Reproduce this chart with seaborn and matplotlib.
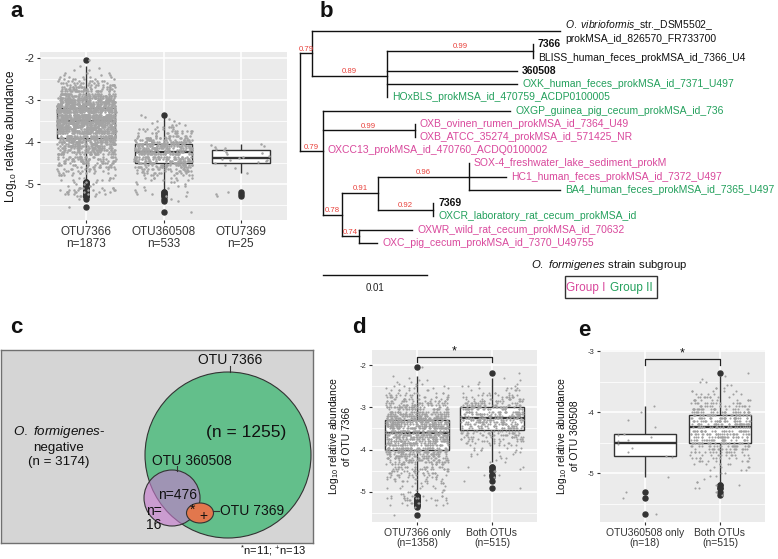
import numpy as np
import pandas as pd
import matplotlib
matplotlib.use("Agg")
import matplotlib.pyplot as plt
import seaborn as sns
from matplotlib.patches import Circle, Ellipse, Rectangle
from matplotlib.colors import to_rgba

plt.rcParams['font.family'] = ['Liberation Sans', 'DejaVu Sans']
plt.rcParams['mathtext.fontset'] = 'custom'
plt.rcParams['mathtext.rm'] = 'Liberation Sans'
plt.rcParams['mathtext.it'] = 'Liberation Sans:italic'
plt.rcParams['mathtext.bf'] = 'Liberation Sans:bold'
plt.rcParams['axes.unicode_minus'] = False
np.random.seed(3)

# ---------------- data (log10 relative abundance, 0.05-wide bins) -------------
STEP = 0.05
# OTU7366 in samples with OTU7366 only (counts per bin from the top value downwards)
d1_top = -2.05
d1_counts = [1, 0, 0, 0, 1, 1, 2, 2, 3, 4,
             5, 6, 8, 10, 12, 14, 16, 19, 22, 26,
             29, 33, 36, 40, 43, 47, 50, 52, 54, 57,
             58, 40, 45, 44, 43, 42, 41, 39, 38, 36,
             33, 31, 29, 26, 24, 22, 20, 17, 16, 14,
             13, 11, 9, 8, 7, 6, 5, 4, 3, 3,
             2, 7, 9, 8, 6, 4, 1, 0, 0, 0,
             1]
# OTU7366 in samples with both OTUs
d2_top = -2.20
d2_counts = [1, 0, 1, 1, 1, 2, 3, 4, 5, 6,
             8, 10, 13, 15, 18, 20, 23, 25, 27, 29,
             30, 28, 25, 25, 24, 22, 20, 18, 16, 15,
             13, 12, 10, 8, 6, 4, 4, 3, 3, 2,
             2, 1, 2, 0, 2, 1, 2, 0, 2, 1,
             0, 1, 0, 0, 1]
# OTU360508 in samples with both OTUs
e2_top = -3.35
e2_counts = [1, 1, 1, 2, 2, 3, 5, 6, 9, 11,
             14, 17, 21, 24, 27, 30, 31, 33, 29, 31,
             30, 28, 26, 23, 21, 18, 15, 12, 10, 8,
             6, 4, 3, 2, 2, 1, 2, 2, 2, 1,
             1]
# OTU360508 in samples with OTU360508 only
e1_values = [-5.67, -5.40, -5.30, -5.07, -4.73, -4.71, -4.66, -4.58, -4.52,
             -4.48, -4.45, -4.41, -4.38, -4.36, -4.25, -4.12, -4.00, -3.89]
# OTU7369
a3_values = [-5.28, -5.25, -5.20, -4.75, -4.62, -4.55, -4.50, -4.48, -4.46,
             -4.44, -4.42, -4.40, -4.38, -4.36, -4.33, -4.30, -4.26, -4.23,
             -4.20, -4.18, -4.15, -4.12, -4.10, -4.07, -4.05]

a_names = ["OTU7366", "OTU360508", "OTU7369"]
d_names = ["OTU7366 only", "Both OTUs"]
e_names = ["OTU360508 only", "Both OTUs"]

# Venn counts (panel c)
n_negative = 3174
n_7366_only = 1255
n_both = 476
n_360508_only = 16
n_star = 11
n_plus = 13

# tree (panel b): leaves in plotting order
leaf_labels = [
    "$\\mathit{O.\\ vibrioformis}$_str._DSM5502_\nprokMSA_id_826570_FR733700",
    "7366", "BLISS_human_feces_prokMSA_id_7366_U4", "360508",
    "OXK_human_feces_prokMSA_id_7371_U497", "HOxBLS_prokMSA_id_470759_ACDP0100005",
    "OXGP_guinea_pig_cecum_prokMSA_id_736", "OXB_ovinen_rumen_prokMSA_id_7364_U49",
    "OXB_ATCC_35274_prokMSA_id_571425_NR", "OXCC13_prokMSA_id_470760_ACDQ0100002",
    "SOX-4_freshwater_lake_sediment_prokM", "HC1_human_feces_prokMSA_id_7372_U497",
    "BA4_human_feces_prokMSA_id_7365_U497", "7369",
    "OXCR_laboratory_rat_cecum_prokMSA_id", "OXWR_wild_rat_cecum_prokMSA_id_70632",
    "OXC_pig_cecum_prokMSA_id_7370_U49755"]
leaf_group = [None, None, None, None, "II", "II", "II", "I", "I", "I", "I", "I",
              "II", None, "II", "I", "I"]
leaf_bold = [False, True, False, True] + [False] * 9 + [True] + [False] * 3
# ('L', leaf index, branch length) / ('N', branch length, support, children)
tree = ('N', 0.0, None, [
    ('N', 0.00115, "0.79", [
        ('L', 0, 0.0238),
        ('N', 0.0072, "0.89", [
            ('N', 0.0140, "0.99", [('L', 1, 0.0), ('L', 2, 0.0)]),
            ('L', 3, 0.0125),
            ('L', 4, 0.0125),
            ('L', 5, 0.0)])]),
    ('N', 0.0022, "0.79", [
        ('L', 6, 0.0180),
        ('N', 0.0088, "0.99", [('L', 7, 0.0), ('L', 8, 0.0)]),
        ('L', 9, 0.0),
        ('N', 0.0018, "0.78", [
            ('N', 0.0035, "0.91", [
                ('N', 0.0087, "0.96", [('L', 10, 0.0), ('L', 11, 0.0036), ('L', 12, 0.0088)]),
                ('N', 0.0053, "0.92", [('L', 13, 0.0), ('L', 14, 0.0)])]),
            ('N', 0.0017, "0.74", [('L', 15, 0.0051), ('L', 16, 0.0017)])])])])
scale_bar_len = 0.01

# ---------------- helpers ----------------
W, H = 778, 559
PINK, GREEN = "#D9489C", "#23A05C"
GRPCOL = {"I": PINK, "II": GREEN, None: "#111111"}


def rect(x0, y0, x1, y1):
    return [x0 / W, 1 - y1 / H, (x1 - x0) / W, (y1 - y0) / H]


def expand(top, counts):
    vals = np.round(top - STEP * np.arange(len(counts)), 2)
    return np.repeat(vals, counts)


def long_df(names, arrays):
    return pd.DataFrame({"group": np.concatenate([[n] * len(a) for n, a in zip(names, arrays)]),
                         "value": np.concatenate(arrays)})


def gg_style(ax, ylim, yticks, minor, tick_fs):
    ax.set_facecolor("#EBEBEB")
    for s in ax.spines.values():
        s.set_visible(False)
    ax.set_ylim(*ylim)
    ax.set_yticks(yticks)
    ax.set_yticklabels([str(int(t)) for t in yticks])
    ax.set_yticks(minor, minor=True)
    ax.grid(True, which="major", color="white", lw=1.1)
    ax.grid(True, which="minor", axis="y", color="white", lw=0.55)
    ax.tick_params(which="minor", length=0)
    ax.tick_params(which="major", length=2.5, width=0.8, color="#333333", labelcolor="#333333", pad=1.5)
    ax.tick_params(axis="y", labelsize=tick_fs)
    ax.set_axisbelow(True)


box_kw = dict(color="white", linecolor="#333333", linewidth=1.0, saturation=1, showcaps=False,
              flierprops=dict(marker="o", markersize=3.6, markerfacecolor="#333333",
                              markeredgecolor="#333333"),
              medianprops=dict(linewidth=1.7))

d1 = expand(d1_top, d1_counts)
d2 = expand(d2_top, d2_counts)
e2 = expand(e2_top, e2_counts)
e1 = np.array(e1_values)
a1 = np.concatenate([d1, d2])
a2 = np.concatenate([e1, e2])
a3 = np.array(a3_values)

fig = plt.figure(figsize=(7.78, 5.59), dpi=100)

# ---------------- panel a ----------------
axa = fig.add_axes(rect(40, 52, 287, 220))
dfa = long_df(a_names, [a1, a2, a3])
sns.boxplot(data=dfa, x="group", y="value", order=a_names, width=0.75, ax=axa, **box_kw)
sns.stripplot(data=dfa, x="group", y="value", order=a_names, jitter=0.38, size=1.8,
              color="#A4A4A4", linewidth=0, ax=axa, zorder=3)
gg_style(axa, (-5.86, -1.86), [-5, -4, -3, -2], [-5.5, -4.5, -3.5, -2.5], 8)
axa.set_xlim(-0.6, 2.6)
axa.set_xticks(range(3))
axa.set_xticklabels([f"{n}\nn={len(a)}" for n, a in zip(a_names, [a1, a2, a3])],
                    fontsize=8.5, linespacing=1.05)
axa.set_xlabel("")
axa.set_ylabel("Log$_{10}$ relative abundance", fontsize=8.5, color="#111111")
axa.yaxis.set_label_coords(-0.085, 0.5)

# ---------------- panel d ----------------
axd = fig.add_axes(rect(372, 350, 537, 522))
dfd = long_df(d_names, [d1, d2])
sns.boxplot(data=dfd, x="group", y="value", order=d_names, width=0.85, ax=axd, **box_kw)
sns.stripplot(data=dfd, x="group", y="value", order=d_names, jitter=0.42, size=1.5,
              color="#A0A0A0", linewidth=0, ax=axd, zorder=3)
gg_style(axd, (-5.71, -1.645), [-5, -4, -3, -2], [-5.5, -4.5, -3.5, -2.5], 5.5)
axd.set_xlim(-0.6, 1.6)
axd.set_xticks(range(2))
axd.set_xticklabels([f"{n}\n(n={len(a)})" for n, a in zip(d_names, [d1, d2])],
                    fontsize=7.5, linespacing=1.05)
axd.set_xlabel("")
axd.set_ylabel("Log$_{10}$ relative abundance\nof OTU 7366", fontsize=7.5, color="#111111",
               linespacing=1.1)
axd.yaxis.set_label_coords(-0.12, 0.5)
bd = max(a.max() for a in [d1, d2]) + 0.24
axd.plot([0, 0, 1, 1], [bd - 0.12, bd, bd, bd - 0.12], color="#222222", lw=0.9, zorder=4)
axd.text(0.5, bd - 0.02, "*", ha="center", va="bottom", fontsize=9, color="#111111")

# ---------------- panel e ----------------
axe = fig.add_axes(rect(600, 350, 765, 522))
dfe = long_df(e_names, [e1, e2])
sns.boxplot(data=dfe, x="group", y="value", order=e_names, width=0.82, ax=axe, **box_kw)
sns.stripplot(data=dfe, x="group", y="value", order=e_names, jitter=0.4, size=1.5,
              color="#A0A0A0", linewidth=0, ax=axe, zorder=3)
gg_style(axe, (-5.80, -2.98), [-5, -4, -3], [-5.5, -4.5, -3.5], 5.5)
axe.set_xlim(-0.6, 1.6)
axe.set_xticks(range(2))
axe.set_xticklabels([f"{n}\n(n={len(a)})" for n, a in zip(e_names, [e1, e2])],
                    fontsize=7.5, linespacing=1.05)
axe.set_xlabel("")
axe.set_ylabel("Log$_{10}$ relative abundance\nof OTU 360508", fontsize=7.5, color="#111111",
               linespacing=1.1)
axe.yaxis.set_label_coords(-0.12, 0.5)
be = max(a.max() for a in [e1, e2]) + 0.23
axe.plot([0, 0, 1, 1], [be - 0.1, be, be, be - 0.1], color="#222222", lw=0.9, zorder=4)
axe.text(0.5, be - 0.02, "*", ha="center", va="bottom", fontsize=9, color="#111111")

# ---------------- panel b (tree) ----------------
axt = fig.add_axes(rect(290, 15, 778, 305))
axt.set_xlim(-0.00096, 0.0459)
axt.set_ylim(20.68, -1.208)
axt.axis("off")
LW = 1.0


def draw(node, x0):
    if node[0] == "L":
        _, idx, bl = node
        x = x0 + bl
        if bl > 0:
            axt.plot([x0, x], [idx, idx], color="#111111", lw=LW, solid_capstyle="projecting")
        axt.annotate(leaf_labels[idx], (x, idx), xytext=(3.6, 0), textcoords="offset points",
                     ha="left", va="center", fontsize=7.5, color=GRPCOL[leaf_group[idx]],
                     fontweight="bold" if leaf_bold[idx] else "normal", linespacing=1.2)
        return idx
    _, bl, sup, kids = node
    x = x0 + bl
    ys = [draw(k, x) for k in kids]
    y = float(np.mean(ys))
    axt.plot([x, x], [min(ys), max(ys)], color="#111111", lw=LW, solid_capstyle="projecting")
    if bl > 0:
        axt.plot([x0, x], [y, y], color="#111111", lw=LW, solid_capstyle="projecting")
    if sup:
        axt.annotate(sup, ((x0 + x) / 2, y), xytext=(0, 0.6), textcoords="offset points",
                     ha="center", va="bottom", fontsize=5.6, color="#E8403A")
    return y


draw(tree, 0.0)
sb_x0, sb_y = 0.0022, 18.42
axt.plot([sb_x0, sb_x0 + scale_bar_len], [sb_y, sb_y], color="#111111", lw=1.0)
axt.text(sb_x0 + scale_bar_len / 2, sb_y + 0.95, f"{scale_bar_len}", ha="center", va="center",
         fontsize=7, color="#222222")

# legend for strain subgroup
fig.text(609 / W, 1 - 265 / H, "$\\mathit{O.\\ formigenes}$ strain subgroup", ha="center",
         va="center", fontsize=8.2, color="#111111")
fig.patches.append(Rectangle((565 / W, 1 - 298 / H), 92 / W, 22 / H, transform=fig.transFigure,
                             fill=False, ec="#333333", lw=1.0))
fig.text(609 / W, 1 - 287.5 / H, "Group I ", ha="right", va="center", fontsize=8.5, color=PINK)
fig.text(610 / W, 1 - 287.5 / H, "Group II", ha="left", va="center", fontsize=8.5, color=GREEN)

# ---------------- panel c (Venn) ----------------
axc = fig.add_axes(rect(1, 350, 313, 543))
axc.set_xlim(1, 313)
axc.set_ylim(543, 350)
axc.set_facecolor("#D5D5D5")
for s in axc.spines.values():
    s.set_color("#707070")
    s.set_linewidth(1.0)
axc.set_xticks([])
axc.set_yticks([])
axc.add_patch(Circle((228, 455), 83, fc="#63BF8B", ec="#333333", lw=0.8))
axc.add_patch(Circle((172, 498), 28, fc=to_rgba("#C57ACE", 0.62), ec="#333333", lw=0.8))
axc.add_patch(Ellipse((200, 513), 27, 20, fc="#E2774D", ec="#333333", lw=0.8))
axc.text(230, 360, "OTU 7366", ha="center", va="center", fontsize=10, color="#111111")
axc.plot([230, 230], [366, 372], color="#333333", lw=0.8)
axc.text(246, 433, f"(n = {n_7366_only})", ha="center", va="center", fontsize=12.5, color="#111111")
axc.text(59, 446, "$\\mathit{O.\\ formigenes}$-\nnegative\n" + f"(n = {n_negative})",
         ha="center", va="center", fontsize=9.6, color="#111111", linespacing=1.2)
axc.text(192, 461, "OTU 360508", ha="center", va="center", fontsize=10, color="#111111")
axc.plot([177, 177], [466, 471], color="#333333", lw=0.8)
axc.text(178, 495, f"n={n_both}", ha="center", va="center", fontsize=10, color="#111111")
axc.text(146, 518, f"n=\n{n_360508_only}", ha="left", va="center", fontsize=10, color="#111111",
         linespacing=1.0)
axc.text(193, 510, "*", ha="center", va="center", fontsize=10, color="#111111")
axc.text(203, 516, "+", ha="center", va="center", fontsize=10, color="#111111")
axc.plot([213, 219], [511, 511], color="#333333", lw=0.8)
axc.text(220, 511, "OTU 7369", ha="left", va="center", fontsize=10, color="#111111")
fig.text(306 / W, 1 - 551 / H, f"$^{{*}}$n={n_star}; $^{{+}}$n={n_plus}", ha="right", va="center",
         fontsize=8, color="#111111")

# ---------------- panel letters ----------------
for lab, (x, y) in {"a": (10, 17), "b": (320, 17), "c": (10, 333), "d": (352, 333),
                    "e": (578, 336)}.items():
    fig.text(x / W, 1 - y / H, lab, fontsize=16, fontweight="bold", va="baseline", ha="left",
             color="#111111")

fig.savefig("out.png", dpi=100)
